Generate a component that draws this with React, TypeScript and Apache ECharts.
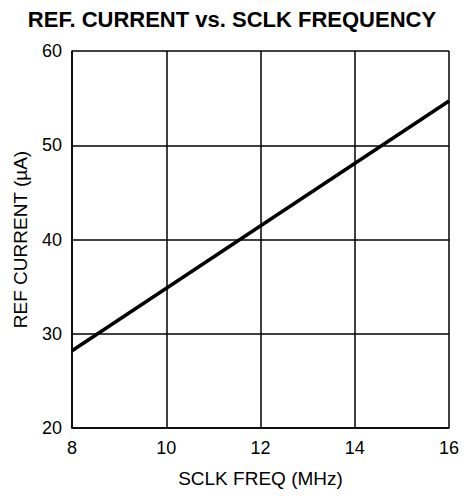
import React, { useEffect, useRef } from "react";
import * as echarts from "echarts";

const freqMHz = [8, 16];
const refCurrentUA = [28.2, 54.7];
const xTicks = [8, 10, 12, 14, 16];
const yTicks = [20, 30, 40, 50, 60];

export default function App() {
  const ref = useRef<HTMLDivElement>(null);
  useEffect(() => {
    if (!ref.current) return;
    const chart = echarts.init(ref.current, null, { renderer: "svg" });
    const font = "Liberation Sans, Arial, Helvetica, sans-serif";
    chart.setOption({
      animation: false,
      backgroundColor: "#ffffff",
      title: {
        text: "REF. CURRENT vs. SCLK FREQUENCY",
        left: "center",
        top: 3,
        textStyle: { fontFamily: font, fontWeight: "bold", fontSize: 22, color: "#000" },
      },
      grid: { left: 72, right: 15, top: 51, bottom: 69 },
      xAxis: {
        type: "value",
        min: xTicks[0],
        max: xTicks[xTicks.length - 1],
        interval: 2,
        name: "SCLK FREQ (MHz)",
        nameLocation: "middle",
        nameGap: 41,
        nameTextStyle: { fontFamily: font, fontSize: 19, color: "#000" },
        axisLine: { show: true, lineStyle: { color: "#000", width: 1.5 } },
        axisTick: { show: false },
        axisLabel: { fontFamily: font, fontSize: 18, color: "#000", margin: 11 },
        splitLine: { show: true, lineStyle: { color: "#000", width: 1.5 } },
      },
      yAxis: {
        type: "value",
        min: yTicks[0],
        max: yTicks[yTicks.length - 1],
        interval: 10,
        name: "REF CURRENT (µA)",
        nameLocation: "middle",
        nameGap: 42,
        nameTextStyle: { fontFamily: font, fontSize: 19, color: "#000" },
        axisLine: { show: true, lineStyle: { color: "#000", width: 1.5 } },
        axisTick: { show: false },
        axisLabel: { fontFamily: font, fontSize: 18, color: "#000", margin: 10 },
        splitLine: { show: true, lineStyle: { color: "#000", width: 1.5 } },
      },
      series: [
        {
          type: "line",
          data: freqMHz.map((x, i) => [x, refCurrentUA[i]]),
          symbol: "none",
          lineStyle: { color: "#000", width: 3.5 },
          z: 5,
        },
      ],
    });
    return () => chart.dispose();
  }, []);
  return (
    <div
      ref={ref}
      style={{ position: "fixed", left: 0, top: 0, width: 464, height: 497 }}
    />
  );
}
